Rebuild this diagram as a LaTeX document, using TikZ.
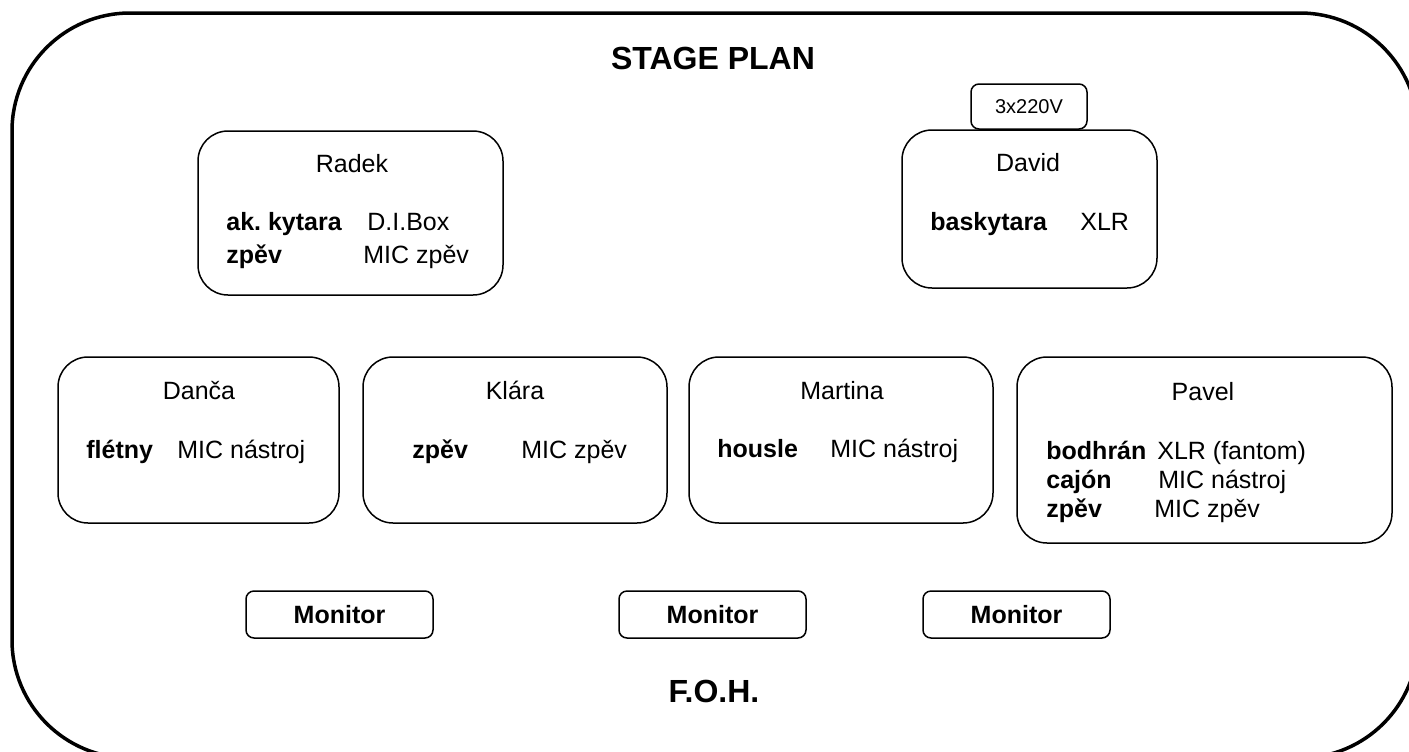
\documentclass[tikz,border=0pt]{standalone}
\usepackage{fontspec}
\setmainfont{Liberation Sans}
\frenchspacing
\begin{document}
\begin{tikzpicture}[x=0.5pt,y=-0.5pt,
  box/.style={draw, line width=0.75pt, rounded corners=15pt, inner sep=0pt},
  smallbox/.style={draw, line width=0.75pt, rounded corners=4pt, inner sep=0pt},
  txt/.style={inner sep=0pt, font=\fontsize{12.5}{15}\selectfont},
  lbl/.style={txt, anchor=base west},
  bl/.style={txt, anchor=base west, font=\fontsize{12.5}{15}\selectfont\bfseries},
  pname/.style={txt, anchor=base},
  ttl/.style={inner sep=0pt, anchor=base, font=\fontsize{16}{19}\selectfont\bfseries}]
\useasboundingbox (0,0) rectangle (1409,751);
\begin{scope}
\clip (0,0) rectangle (1409,751);
\draw[line width=1.75pt, rounded corners=59pt] (12,13) rectangle (1418,758);
\end{scope}
\node[ttl] (stage) at (713,69) {STAGE PLAN};
\node[ttl] (foh) at (714,702) {F.O.H.};
% Radek
\node[box, minimum width=152.5pt, minimum height=82pt] (radek) at (350.5,213) {};
\node[pname] (radekn) at (352,172) {Radek};
\node[bl] (r1) at (226,230) {ak.\ kytara};
\node[lbl] (r1b) at (367,230) {D.I.Box};
\node[bl] (r2) at (226,263) {zpěv};
\node[lbl] (r2b) at (363,263) {MIC zpěv};
% David
\node[smallbox, minimum width=58pt, minimum height=22.5pt, font=\fontsize{10}{12}\selectfont] (power) at (1029,106.5) {3x220V};
\node[box, fill=white, minimum width=127.5pt, minimum height=79pt] (david) at (1029.5,209) {};
\node[pname] (davidn) at (1028,171) {David};
\node[bl] (d1) at (930,230) {baskytara};
\node[lbl] (d1b) at (1080,230) {XLR};
% Danca
\node[box, minimum width=140.5pt, minimum height=83pt] (danca) at (198.5,440) {};
\node[pname] (dancan) at (199,399) {Danča};
\node[bl] (dc1) at (86,458) {flétny};
\node[lbl] (dc1b) at (177,458) {MIC nástroj};
% Klara
\node[box, minimum width=152pt, minimum height=83pt] (klara) at (515,440) {};
\node[pname] (klaran) at (515,399) {Klára};
\node[bl] (k1) at (412,458) {zpěv};
\node[lbl] (k1b) at (521,458) {MIC zpěv};
% Martina
\node[box, minimum width=152pt, minimum height=83pt] (martina) at (841,440) {};
\node[pname] (martinan) at (842,399) {Martina};
\node[bl] (m1) at (717,457) {housle};
\node[lbl] (m1b) at (830,457) {MIC nástroj};
% Pavel
\node[box, minimum width=187.5pt, minimum height=93pt] (pavel) at (1204.5,450) {};
\node[pname] (paveln) at (1203,400) {Pavel};
\node[bl] (p1) at (1046,459) {bodhrán};
\node[lbl] (p1b) at (1157,459) {XLR (fantom)};
\node[bl] (p2) at (1046,488) {cajón};
\node[lbl] (p2b) at (1158,488) {MIC nástroj};
\node[bl] (p3) at (1046,517) {zpěv};
\node[lbl] (p3b) at (1154,517) {MIC zpěv};
% Monitors
\node[smallbox, minimum width=93.5pt, minimum height=23.5pt, font=\fontsize{12.5}{15}\selectfont\bfseries] (mon1) at (339.5,614.5) {Monitor};
\node[smallbox, minimum width=93.5pt, minimum height=23.5pt, font=\fontsize{12.5}{15}\selectfont\bfseries] (mon2) at (712.5,614.5) {Monitor};
\node[smallbox, minimum width=93.5pt, minimum height=23.5pt, font=\fontsize{12.5}{15}\selectfont\bfseries] (mon3) at (1016.5,614.5) {Monitor};
\end{tikzpicture}
\end{document}
